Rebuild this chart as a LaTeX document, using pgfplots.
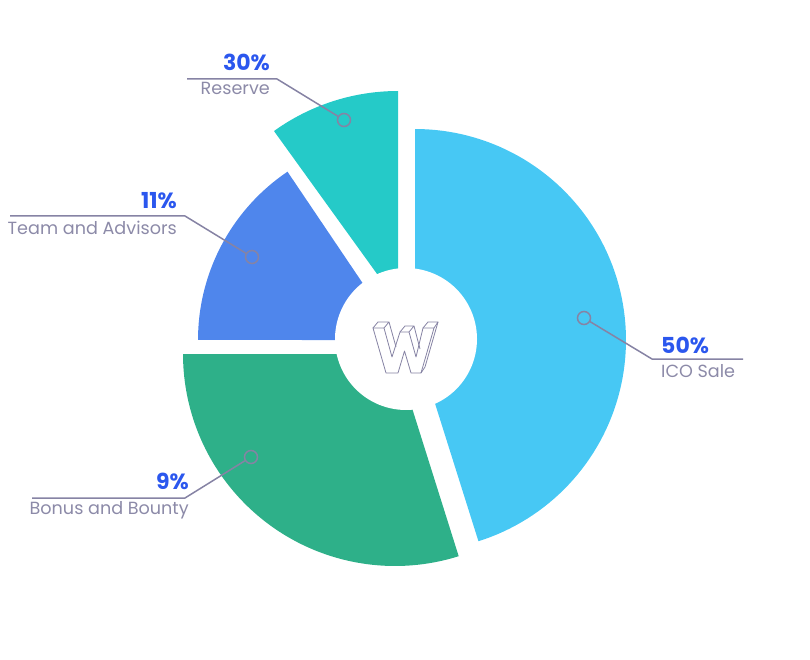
\documentclass[border=0pt]{standalone}
\usepackage{pgfplots}
\pgfplotsset{compat=1.18}
\usepackage{fontspec}
\setmainfont{Poppins}

\definecolor{ico}{HTML}{47C8F4}
\definecolor{reserve}{HTML}{25CAC8}
\definecolor{team}{HTML}{4F86EC}
\definecolor{bonus}{HTML}{2EB089}
\definecolor{pct}{HTML}{2B57EE}
\definecolor{lbl}{HTML}{8C8AA8}
\definecolor{lead}{HTML}{8683A4}

% one exploded slice: colour, centre x, centre y, radius, start angle, end angle
\newcommand{\slice}[6]{%
  \addplot[draw=none, fill=#1, domain=#5:#6, samples=90, variable=\t]
    ({#2+#4*cos(\t)}, {#3-#4*sin(\t)}) -- (axis cs:#2,#3) -- cycle;
}
\newcommand{\pcttext}[1]{{\color{pct}\fontsize{22}{26}\selectfont\bfseries #1}}
\newcommand{\lbltext}[1]{{\color{lbl}\fontsize{17.6}{20}\selectfont #1}}

\begin{document}
\begin{tikzpicture}
\begin{axis}[
  width=810pt, height=660pt, scale only axis,
  xmin=0, xmax=810, ymin=0, ymax=660, y dir=reverse,
  hide axis, clip=false,
]
\path (rel axis cs:0,0) rectangle (rel axis cs:1,1);

% slices (pixel coordinates, angles in degrees)
\slice{ico}{415}{340}{211}{-72.5}{90}
\slice{bonus}{395}{354}{212}{180}{287.5}
\slice{team}{401}{340}{203}{124}{180}
\slice{reserve}{398}{303}{212}{90}{125.8}

% centre hole
\addplot[draw=none, fill=white, domain=0:360, samples=120]
  ({406+71*cos(x)}, {339-71*sin(x)}) -- cycle;

% logo
\begin{scope}[draw=lead, line width=0.8pt, line join=round]
\draw (axis cs:373,328) -- (axis cs:384,328) -- (axis cs:392,357) -- (axis cs:400,332)
  -- (axis cs:409,332) -- (axis cs:416,357) -- (axis cs:423,328) -- (axis cs:434,328)
  -- (axis cs:421,373) -- (axis cs:411,373) -- (axis cs:404.5,351) -- (axis cs:398,373)
  -- (axis cs:386,373) -- cycle;
\draw (axis cs:373,328) -- (axis cs:378,322) -- (axis cs:389,322) -- (axis cs:384,328);
\draw (axis cs:389,322) -- (axis cs:396,347);
\draw (axis cs:400,332) -- (axis cs:405,326) -- (axis cs:414,326) -- (axis cs:409,332);
\draw (axis cs:414,326) -- (axis cs:420,349);
\draw (axis cs:423,328) -- (axis cs:428,322) -- (axis cs:438,322) -- (axis cs:434,328);
\draw (axis cs:438,322) -- (axis cs:425,367) -- (axis cs:421,373);
\end{scope}

% leader lines
\addplot[lead, line width=1.5pt] coordinates {(187,79) (277,79) (338,116.3)};
\addplot[lead, line width=1.5pt] coordinates {(10,216) (185,216) (246,253.3)};
\addplot[lead, line width=1.5pt] coordinates {(32,498) (185,498) (245,460.7)};
\addplot[lead, line width=1.5pt] coordinates {(590,321.6) (652,359) (743,359)};
\addplot[only marks, mark=o, mark size=6.5pt, mark options={draw=lead, line width=1.5pt}]
  coordinates {(344,120) (252,257) (251,457) (584,318)};

% labels
\node[anchor=base east, inner sep=0pt] at (axis cs:270,71) {\pcttext{30\%}};
\node[anchor=base east, inner sep=0pt] at (axis cs:270,95) {\lbltext{Reserve}};
\node[anchor=base east, inner sep=0pt] at (axis cs:177,209) {\pcttext{11\%}};
\node[anchor=base east, inner sep=0pt] at (axis cs:177,234) {\lbltext{Team and Advisors}};
\node[anchor=base east, inner sep=0pt] at (axis cs:189,489) {\pcttext{9\%}};
\node[anchor=base east, inner sep=0pt] at (axis cs:189,514) {\lbltext{Bonus and Bounty}};
\node[anchor=base west, inner sep=0pt] at (axis cs:661,353) {\pcttext{50\%}};
\node[anchor=base west, inner sep=0pt] at (axis cs:661,377) {\lbltext{ICO Sale}};
\end{axis}
\end{tikzpicture}
\end{document}
